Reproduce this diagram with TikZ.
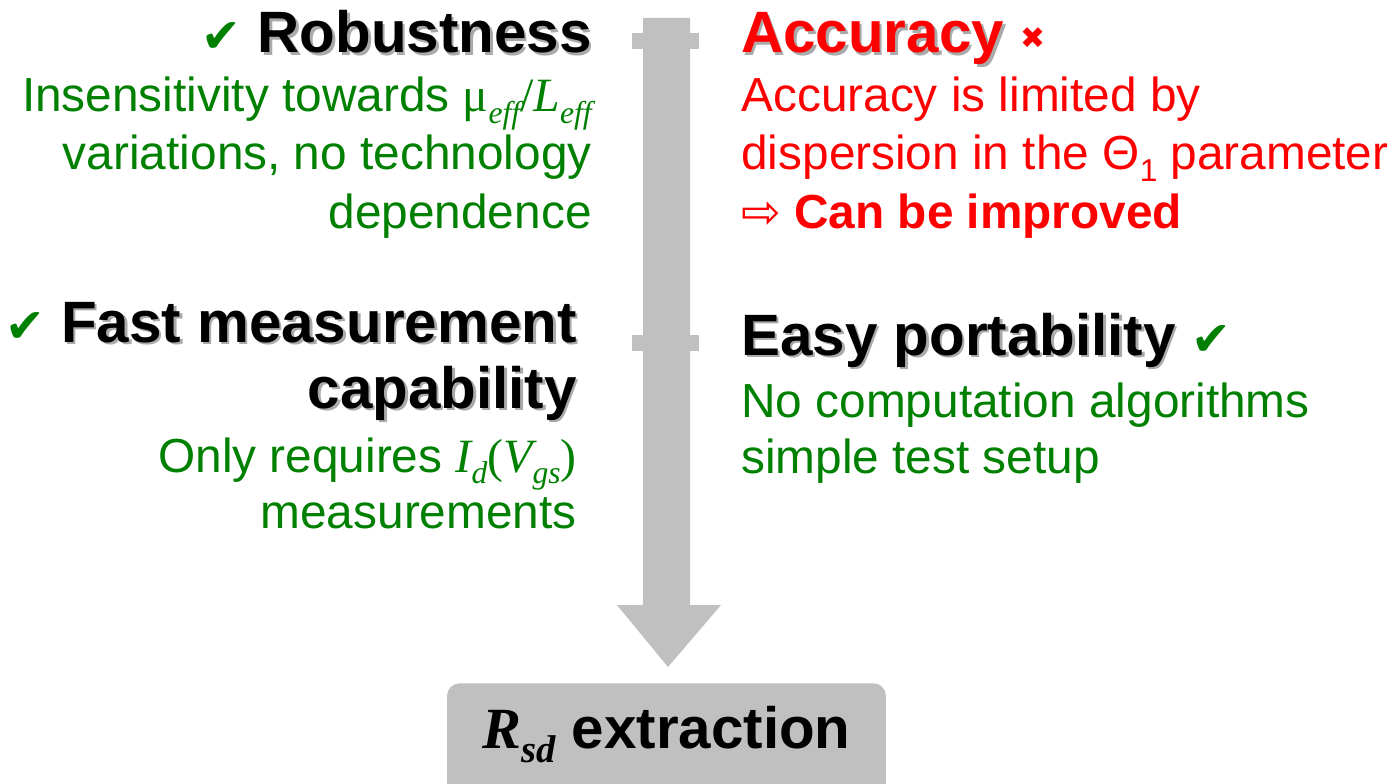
\documentclass[tikz,border=0pt]{standalone}
\usepackage{fontspec}
\setmainfont{Liberation Sans}
\newfontfamily\timesfont{Liberation Serif}
\newfontfamily\symfont{DejaVu Sans}
\usetikzlibrary{positioning}

\definecolor{okgreen}{RGB}{0,128,0}
\definecolor{badred}{RGB}{255,0,0}
\definecolor{arrowgray}{RGB}{192,192,192}
\definecolor{shadowgray}{RGB}{170,170,170}

\newcommand{\shadowed}[1]{\makebox[0pt][l]{\hspace{1.5pt}\raisebox{-1.5pt}{\color{shadowgray}#1}}#1}
\newcommand{\okmark}{{\color{okgreen}\symfont\fontsize{27}{27}\selectfont ✔}}
\newcommand{\nomark}{{\color{badred}\symfont\fontsize{17}{17}\selectfont\raisebox{0.15em}{✖}}}
\newcommand{\lowsub}[2][18]{\raisebox{-0.25em}{\fontsize{#1}{#1}\selectfont #2}}

\tikzset{
	headtext/.style={font=\fontsize{33.2}{40}\selectfont\bfseries, inner sep=0pt},
	bodytext/.style={font=\fontsize{27.2}{33}\selectfont, inner sep=0pt},
	leftline/.style={anchor=base east},
	rightline/.style={anchor=base west}
}

\begin{document}
\begin{tikzpicture}[x=0.02cm, y=-0.02cm]
		\useasboundingbox (0,0) rectangle (1393,784);
		
		% Gray arrow
		\fill[arrowgray] (643,18) -- (690,18) -- (690,605) -- (721,605) -- (668,667) -- (617,605) -- (643,605) -- cycle;
		\fill[arrowgray] (632,33) rectangle (699,49);
		\fill[arrowgray] (632,335) rectangle (699,351);
		
		% Robustness
		\node[headtext, leftline] (robust) at (592,53) {\okmark\ \shadowed{Robustness}};
		\node[bodytext, leftline, text=okgreen] (robust1) at (592,112) {Insensitivity towards {\timesfont μ\lowsub{\itshape eff}/\itshape L\lowsub{eff}}};
		\node[bodytext, leftline, text=okgreen] (robust2) at (592,170) {variations, no technology};
		\node[bodytext, leftline, text=okgreen] (robust3) at (592,228) {dependence};
		
		% Fast measurement
		\node[headtext, leftline] (fast) at (577,342) {\okmark\ \shadowed{Fast measurement}};
		\node[headtext, leftline] (fast1) at (577,408) {\shadowed{capability}};
		\node[bodytext, leftline, text=okgreen] (fast2) at (577,472) {Only requires {\timesfont\itshape I\lowsub{d}{\upshape(}V\lowsub{gs}{\upshape)}}};
		\node[bodytext, leftline, text=okgreen] (fast3) at (577,528) {measurements};
		
		% Accuracy
		\node[headtext, rightline, text=badred] (accur) at (741,53) {\shadowed{Accuracy}\ \nomark};
		\node[bodytext, rightline, text=badred] (accur1) at (741,112) {Accuracy is limited by};
		\node[bodytext, rightline, text=badred] (accur2) at (741,170) {dispersion in the Θ\lowsub{1} parameter};
		\node[bodytext, rightline, text=badred] (accur3) at (741,228) {{\symfont\fontsize{27}{27}\selectfont ⇨}\ \textbf{Can be improved}};
		
		% Easy portability
		\node[headtext, rightline] (easy) at (741,355) {\shadowed{Easy portability}\ \okmark};
		\node[bodytext, rightline, text=okgreen] (easy1) at (741,417) {No computation algorithms};
		\node[bodytext, rightline, text=okgreen] (easy2) at (741,473) {simple test setup};
		
		% Result box
		\node[headtext, fill=arrowgray, rounded corners=0.25cm, anchor=north, minimum width=8.78cm, minimum height=2.4cm, text height=0.5cm, text depth=0.3cm] (rsd) at (666.5,683) {{\timesfont\itshape R\lowsub[22]{sd}} extraction};
	\end{tikzpicture}
\end{document}
